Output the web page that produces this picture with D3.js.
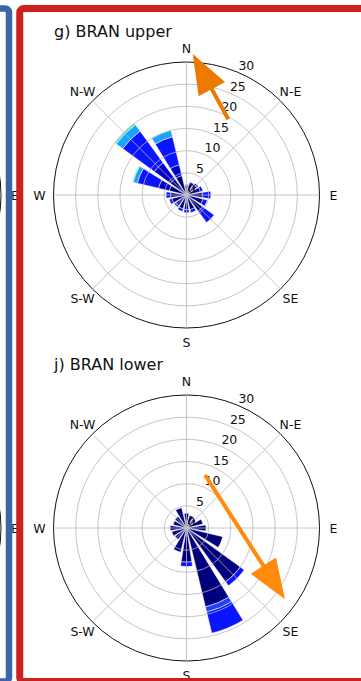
<!DOCTYPE html>
<html>
<head>
<meta charset="utf-8">
<script src="https://cdn.jsdelivr.net/npm/d3@7"></script>
<style>
  html, body { margin: 0; padding: 0; background: #fff; }
  svg { display: block; }
  text { font-family: "DejaVu Sans", sans-serif; fill: #111; }
</style>
</head>
<body>
<svg id="chart" width="361" height="681"></svg>
<script>
// Sixteen compass sectors, clockwise from north
const directions = ["N","NNE","NE","ENE","E","ESE","SE","SSE","S","SSW","SW","WSW","W","WNW","NW","NNW"];
// Speed classes (stacked from the centre outward) and their fills
const speedBins = ["b0","b1","b2","b3","b4","b5"];
const binColors = ["#00007f","#0000c8","#2042ff","#0a14ff","#18a4f8","#48e0c0"];

// Frequency (%) per sector and speed class, BRAN upper
const upperB0 = [2.2, 2.6, 2.9, 3.2, 3.6, 3.8, 4.5, 3.4, 3.3, 3.2, 3.0, 3.4, 3.6, 4.0, 4.5, 4.5];
const upperB1 = [0.0, 0.0, 0.0, 0.0, 0.0, 0.0, 0.0, 0.0, 0.0, 0.0, 0.0, 0.0, 0.0, 2.5, 4.5, 2.5];
const upperB2 = [0.0, 0.0, 0.0, 0.0, 0.0, 0.0, 0.0, 0.0, 0.0, 0.0, 0.0, 0.0, 0.0, 0.0, 0.0, 0.0];
const upperB3 = [0.2, 0.4, 0.4, 0.6, 1.9, 1.0, 3.2, 0.7, 0.7, 0.6, 0.4, 0.6, 1.0, 4.9, 8.8, 6.5];
const upperB4 = [0.0, 0.0, 0.0, 0.0, 0.0, 0.0, 0.0, 0.0, 0.0, 0.0, 0.0, 0.0, 0.0, 1.0, 1.8, 1.5];
const upperB5 = [0.0, 0.0, 0.0, 0.0, 0.0, 0.0, 0.0, 0.0, 0.0, 0.0, 0.0, 0.0, 0.0, 0.2, 0.4, 0.0];

// Frequency (%) per sector and speed class, BRAN lower
const lowerB0 = [3.3, 2.9, 2.6, 3.8, 4.4, 8.4, 15.0, 18.3, 7.7, 5.6, 3.2, 3.4, 3.7, 3.1, 3.2, 4.7];
const lowerB1 = [0.0, 0.0, 0.0, 0.0, 0.0, 0.0, 0.0, 0.0, 0.0, 0.0, 0.0, 0.0, 0.0, 0.0, 0.0, 0.0];
const lowerB2 = [0.0, 0.0, 0.0, 0.0, 0.0, 0.0, 0.0, 1.2, 0.0, 0.0, 0.0, 0.0, 0.0, 0.0, 0.0, 0.0];
const lowerB3 = [0.0, 0.0, 0.0, 0.0, 0.0, 0.0, 1.1, 4.9, 1.0, 0.0, 0.0, 0.0, 0.0, 0.0, 0.0, 0.0];
const lowerB4 = [0, 0, 0, 0, 0, 0, 0, 0, 0, 0, 0, 0, 0, 0, 0, 0];
const lowerB5 = [0, 0, 0, 0, 0, 0, 0, 0, 0, 0, 0, 0, 0, 0, 0, 0];

// Radial ticks (%) and compass labels
const radialTicks = [5, 10, 15, 20, 25, 30];
const compassLabels = ["N","N-E","E","SE","S","S-W","W","N-W"];

// Mean-direction arrows, [east %, north %] for tail and tip
const upperArrow = [[9.43, 17.08], [1.40, 31.8]];
const lowerArrow = [[4.17, 11.96], [22.22, -16.08]];

const svg = d3.select("#chart");
const W = 361, H = 681;
const R = 133;
const rScale = d3.scaleLinear().domain([0, 30]).range([0, R]);
const sector = 2 * Math.PI / directions.length;
const opening = 0.8;

// Edge of the neighbouring panel on the left
[195, 528].forEach(cy => {
  svg.append("circle").attr("cx", 1 - R).attr("cy", cy).attr("r", R)
    .attr("fill", "none").attr("stroke", "#111").attr("stroke-width", 1);
  svg.append("text").attr("x", 11).attr("y", cy).attr("dominant-baseline", "central")
    .attr("font-size", 12.5).text("E");
});

function rose(cx, cy, title, bins, arrow, arrowColor) {
  const g = svg.append("g").attr("transform", `translate(${cx},${cy})`);

  // stacked wedges
  const arc = d3.arc();
  directions.forEach((d, i) => {
    const a0 = i * sector - sector * opening / 2;
    const a1 = i * sector + sector * opening / 2;
    let base = 0;
    bins.forEach((vals, b) => {
      const v = vals[i];
      if (v <= 0) return;
      g.append("path")
        .attr("d", arc({innerRadius: rScale(base), outerRadius: rScale(base + v), startAngle: a0, endAngle: a1}))
        .attr("fill", binColors[b])
        .attr("stroke", "#fff").attr("stroke-width", 0.5);
      base += v;
    });
  });

  // grid drawn over the wedges
  radialTicks.forEach(t => {
    g.append("circle").attr("r", rScale(t)).attr("fill", "none")
      .attr("stroke", t === 30 ? "#111" : "#b8b8b8")
      .attr("stroke-width", t === 30 ? 1 : 0.8);
  });
  for (let k = 0; k < 8; k++) {
    const a = k * Math.PI / 4;
    g.append("line").attr("x1", 0).attr("y1", 0)
      .attr("x2", R * Math.sin(a)).attr("y2", -R * Math.cos(a))
      .attr("stroke", "#b8b8b8").attr("stroke-width", 0.8);
  }

  // radial tick labels along 22.5 degrees
  const la = Math.PI / 8;
  [0].concat(radialTicks).forEach(t => {
    g.append("text")
      .attr("x", rScale(t) * Math.sin(la) + 1)
      .attr("y", -rScale(t) * Math.cos(la) - 6.5)
      .attr("dominant-baseline", "central")
      .attr("font-size", 12.5)
      .text(t);
  });

  // compass labels
  compassLabels.forEach((lab, k) => {
    const a = k * Math.PI / 4;
    g.append("text")
      .attr("x", 147 * Math.sin(a)).attr("y", -147 * Math.cos(a))
      .attr("text-anchor", "middle").attr("dominant-baseline", "central")
      .attr("font-size", 12.5).text(lab);
  });

  // title
  svg.append("text").attr("x", 54).attr("y", cy - 158)
    .attr("font-size", 16).text(title);

  // mean direction arrow
  const p0 = [rScale(arrow[0][0]), -rScale(arrow[0][1])];
  const p1 = [rScale(arrow[1][0]), -rScale(arrow[1][1])];
  const dx = p1[0] - p0[0], dy = p1[1] - p0[1];
  const len = Math.hypot(dx, dy);
  const ux = dx / len, uy = dy / len, nx = -uy, ny = ux;
  const headL = 40, headW = 15, shaftW = 2;
  const bx = p1[0] - ux * headL, by = p1[1] - uy * headL;
  const pts = [
    [p0[0] + nx * shaftW, p0[1] + ny * shaftW],
    [bx + nx * shaftW, by + ny * shaftW],
    [bx + nx * headW, by + ny * headW],
    p1,
    [bx - nx * headW, by - ny * headW],
    [bx - nx * shaftW, by - ny * shaftW],
    [p0[0] - nx * shaftW, p0[1] - ny * shaftW]
  ];
  g.append("polygon").attr("points", pts.map(p => p.join(",")).join(" "))
    .attr("fill", arrowColor);
}

rose(186.5, 195, "g) BRAN upper",
  [upperB0, upperB1, upperB2, upperB3, upperB4, upperB5], upperArrow, "#ec7a00");
rose(186.5, 528, "j) BRAN lower",
  [lowerB0, lowerB1, lowerB2, lowerB3, lowerB4, lowerB5], lowerArrow, "#ff8a0c");

// panel frames
svg.append("rect").attr("x", -100).attr("y", 8.5).attr("width", 109).attr("height", 673)
  .attr("rx", 4).attr("fill", "none").attr("stroke", "#3a66a7").attr("stroke-width", 6.5);
svg.append("rect").attr("x", 19.75).attr("y", 8.5).attr("width", 400).attr("height", 673)
  .attr("rx", 4).attr("fill", "none").attr("stroke", "#cf2020").attr("stroke-width", 7);
</script>
</body>
</html>
